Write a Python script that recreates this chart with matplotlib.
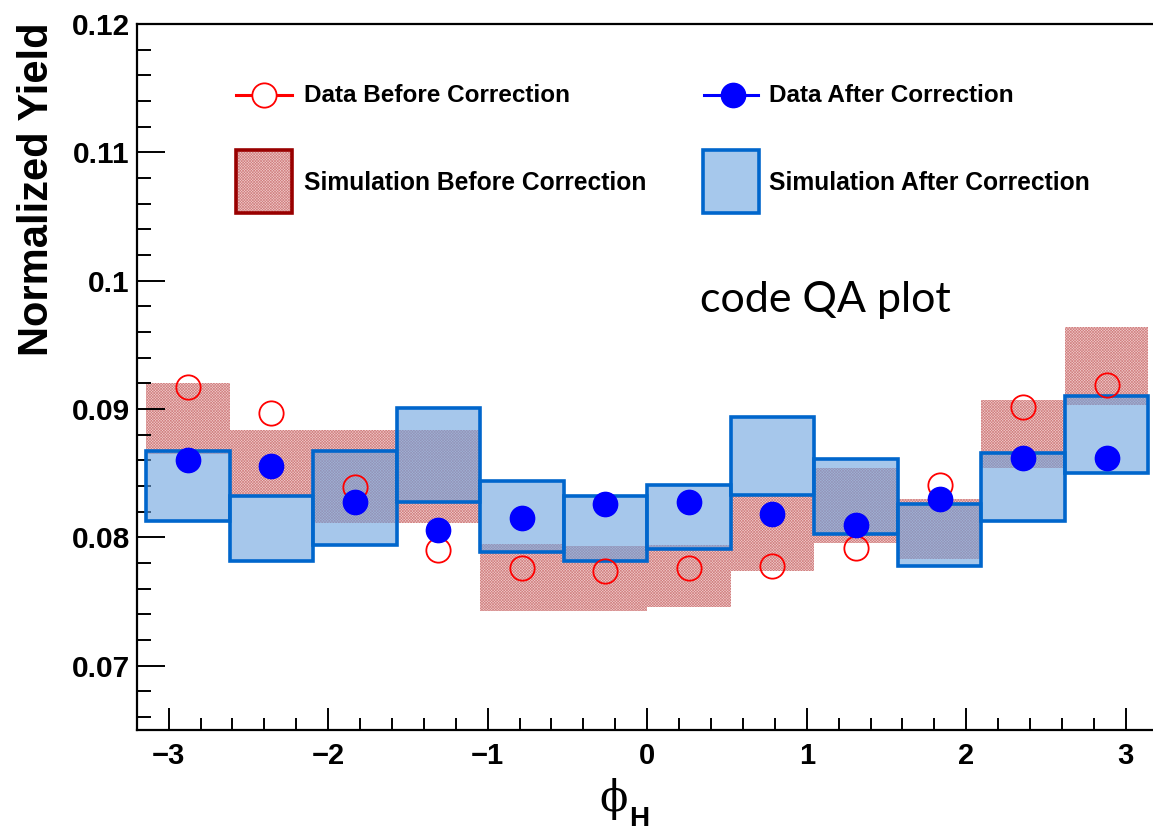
import numpy as np
import matplotlib.pyplot as plt
from matplotlib.patches import Rectangle
from matplotlib.lines import Line2D
from matplotlib.ticker import MultipleLocator

plt.rcParams.update({'font.family': 'Liberation Sans', 'font.weight': 'bold',
                     'hatch.linewidth': 0.45})

# phi_H bins (width pi/6)
phi_centers = [-2.880, -2.356, -1.833, -1.309, -0.785, -0.262,
               0.262, 0.785, 1.309, 1.833, 2.356, 2.880]
bin_width = 0.5236

data_before = [0.0917, 0.0897, 0.0839, 0.0790, 0.0776, 0.0774,
               0.0776, 0.0778, 0.0792, 0.0841, 0.0902, 0.0919]
data_after = [0.0860, 0.0856, 0.0828, 0.0806, 0.0815, 0.0826,
              0.0828, 0.0818, 0.0810, 0.0830, 0.0862, 0.0862]

sim_before_lo = [0.0865, 0.0832, 0.0811, 0.0811, 0.0743, 0.0743,
                 0.0746, 0.0774, 0.0796, 0.0783, 0.0854, 0.0903]
sim_before_hi = [0.0920, 0.0884, 0.0884, 0.0884, 0.0795, 0.0793,
                 0.0794, 0.0832, 0.0854, 0.0830, 0.0907, 0.0964]
sim_after_lo = [0.0813, 0.0782, 0.0794, 0.0828, 0.0789, 0.0782,
                0.0791, 0.0833, 0.0803, 0.0778, 0.0813, 0.0850]
sim_after_hi = [0.0867, 0.0832, 0.0867, 0.0901, 0.0844, 0.0832,
                0.0841, 0.0894, 0.0861, 0.0826, 0.0866, 0.0910]

W, H = 1153, 832
PINK = (0.94, 0.80, 0.80)
HATCH_RED = (0.82, 0.50, 0.50)
BLUE_FACE = (107/255, 163/255, 223/255, 0.6)
BLUE_EDGE = '#0066CC'


def fx(x):
    return x / W


def fy(y):
    return 1 - y / H


fig = plt.figure(figsize=(W / 100, H / 100), dpi=100)
ax = fig.add_axes([fx(136.7), fy(730), 1021 / W, 706 / H])
ax.set_xlim(-3.2, 3.2)
ax.set_ylim(0.065, 0.12)

# simulation before correction (fine red pattern)
lo = np.array(sim_before_lo)
hi = np.array(sim_before_hi)
ax.bar(phi_centers, hi - lo, bottom=lo, width=bin_width, facecolor=PINK,
       edgecolor=HATCH_RED, linewidth=0, hatch='xxxxxxxxxxxx', zorder=1)

# simulation after correction (translucent blue on top)
lo2 = np.array(sim_after_lo)
hi2 = np.array(sim_after_hi)
ax.bar(phi_centers, hi2 - lo2, bottom=lo2, width=bin_width,
       facecolor=BLUE_FACE, edgecolor=BLUE_EDGE, linewidth=2.6, zorder=3)

ax.plot(phi_centers, data_before, 'o', mfc='none', mec='red', ms=17.5,
        mew=1.3, zorder=4)
ax.plot(phi_centers, data_after, 'o', color='blue', ms=17.5, zorder=5)

# axes style
ax.set_xticks(range(-3, 4))
ax.xaxis.set_minor_locator(MultipleLocator(0.2))
ax.set_yticks([0.07, 0.08, 0.09, 0.10, 0.11, 0.12])
ax.set_yticklabels(['0.07', '0.08', '0.09', '0.1', '0.11', '0.12'])
ax.yaxis.set_minor_locator(MultipleLocator(0.002))
ax.tick_params(axis='x', which='major', direction='in', length=16, width=1.4,
               labelsize=21, pad=9, top=False)
ax.tick_params(axis='x', which='minor', direction='in', length=8.5, width=1.4, top=False)
ax.tick_params(axis='y', which='major', direction='in', length=20, width=1.4,
               labelsize=21.5, pad=5, right=False)
ax.tick_params(axis='y', which='minor', direction='in', length=10, width=1.4, right=False)
for s in ['left', 'bottom', 'top']:
    ax.spines[s].set_linewidth(1.6)
ax.spines['right'].set_visible(False)

fig.text(fx(37), fy(22), 'Normalized Yield', rotation=90, ha='center', va='top',
         fontsize=30, fontweight='bold')
# x title: phi with bold H subscript
fig.text(fx(614), fy(799), '\u03d5', family='DejaVu Serif', fontweight='normal',
         ha='center', va='center', fontsize=30)
fig.text(fx(639), fy(819), 'H', ha='center', va='center', fontsize=20)
fig.text(fx(700), fy(312), 'code QA plot', family='Lato', fontweight='normal',
         fontsize=31, va='baseline', ha='left')

# legend
fig.add_artist(Line2D([fx(236), fx(292)], [fy(95), fy(95)], color='red', lw=2.2))
fig.add_artist(Line2D([fx(264)], [fy(95)], marker='o', mfc='white', mec='red',
                      ms=17.5, mew=1.3))
fig.text(fx(304), fy(95), 'Data Before Correction', fontsize=17.5, va='center')

fig.add_artist(Line2D([fx(704), fx(758)], [fy(95), fy(95)], color='blue', lw=2.2))
fig.add_artist(Line2D([fx(733)], [fy(95)], marker='o', color='blue', ms=17.5))
fig.text(fx(769), fy(95), 'Data After Correction', fontsize=17.5, va='center')

fig.add_artist(Rectangle((fx(236), fy(213)), 56 / W, 63 / H, transform=fig.transFigure,
                         facecolor=PINK, edgecolor=HATCH_RED, linewidth=0,
                         hatch='xxxxxxxxxxxx'))
fig.add_artist(Rectangle((fx(236), fy(213)), 56 / W, 63 / H, transform=fig.transFigure,
                         facecolor='none', edgecolor='#990000', linewidth=2.6))
fig.text(fx(304), fy(183), 'Simulation Before Correction', fontsize=17.7, va='center')

fig.add_artist(Rectangle((fx(703), fy(213)), 56 / W, 63 / H, transform=fig.transFigure,
                         facecolor='#A6C8EC', edgecolor=BLUE_EDGE, linewidth=2.6))
fig.text(fx(769), fy(183), 'Simulation After Correction', fontsize=17.7, va='center')

fig.savefig('out.png', dpi=100)
